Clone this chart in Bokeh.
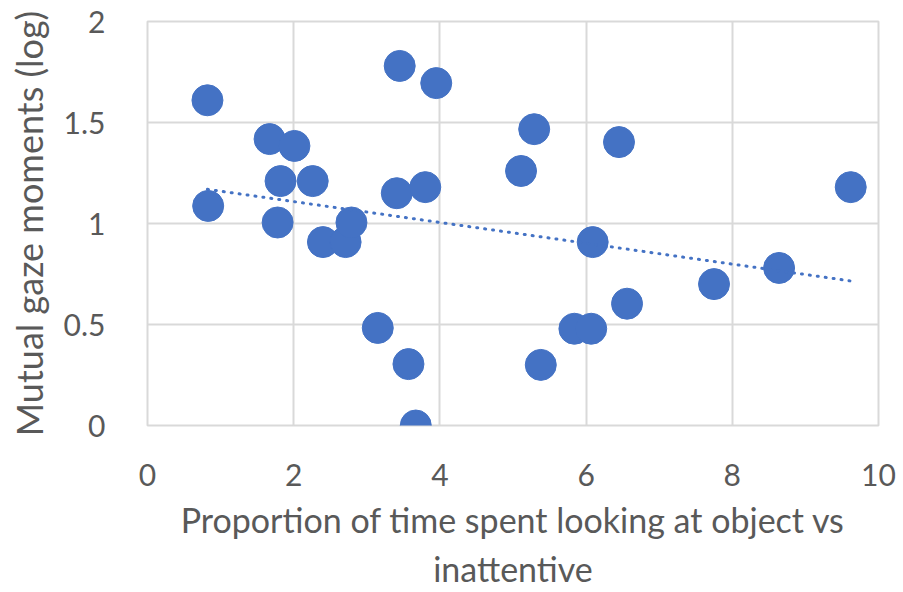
import numpy as np
from bokeh.plotting import figure
from bokeh.models import Range1d, FixedTicker
from bokeh.embed import file_html
from bokeh.resources import INLINE

# proportion of time looking at object vs inattentive
prop_x = [0.82, 0.83, 1.67, 2.01, 1.82, 2.26, 1.78, 2.40, 2.71, 2.79,
          3.45, 3.95, 3.41, 3.80, 3.15, 3.57, 3.67,
          5.29, 5.11, 6.45, 6.09, 6.56, 5.84, 6.07, 5.38, 7.75, 8.64, 9.62]
# mutual gaze moments (log)
gaze_log = [1.61, 1.087, 1.418, 1.384, 1.21, 1.21, 1.005, 0.908, 0.908, 1.005,
            1.78, 1.695, 1.15, 1.18, 0.483, 0.304, 0.0,
            1.467, 1.26, 1.403, 0.908, 0.603, 0.479, 0.479, 0.30, 0.70, 0.78, 1.18]

x_ticks = [0, 2, 4, 6, 8, 10]
y_ticks = [0, 0.5, 1, 1.5, 2]

blue = "#4472C4"
grey_text = "#595959"
font = "Lato"

p = figure(frame_width=731, frame_height=404, x_range=Range1d(0, 10), y_range=Range1d(0, 2),
           output_backend="svg", toolbar_location=None,
           min_border_left=147, min_border_right=22, min_border_top=21, min_border_bottom=150)

p.circle(prop_x, gaze_log, radius=15.5, radius_units="screen", color=blue)

# linear trendline
coef = np.polyfit(prop_x, gaze_log, 1)
tx = np.array([min(prop_x), max(prop_x)])
p.line(tx, coef[0] * tx + coef[1], color=blue, line_width=3, line_dash="1 7", line_cap="round")

p.xaxis.ticker = FixedTicker(ticks=x_ticks)
p.yaxis.ticker = FixedTicker(ticks=y_ticks)
p.yaxis.major_label_overrides = {0: "0", 0.5: "0.5", 1: "1", 1.5: "1.5", 2: "2"}

for ax in [p.xaxis[0], p.yaxis[0]]:
    ax.axis_line_color = None
    ax.major_tick_line_color = None
    ax.minor_tick_line_color = None
    ax.major_label_text_font = font
    ax.major_label_text_font_size = "30px"
    ax.major_label_text_color = grey_text
    ax.axis_label_text_font = font
    ax.axis_label_text_font_style = "normal"
    ax.axis_label_text_color = grey_text

p.xaxis.axis_label = "Proportion of time spent looking at object vs\ninattentive"
p.yaxis.axis_label = "Mutual gaze moments (log)"
p.xaxis.axis_label_text_font_size = "34px"
p.yaxis.axis_label_text_font_size = "36px"
p.xaxis.major_label_standoff = 32
p.yaxis.major_label_standoff = 36
p.xaxis.axis_label_standoff = 10
p.yaxis.axis_label_standoff = 10

p.grid.grid_line_color = "#D9D9D9"
p.grid.grid_line_width = 2
p.outline_line_color = "#D9D9D9"
p.outline_line_width = 2

open("out.html", "w").write(file_html(p, INLINE))
